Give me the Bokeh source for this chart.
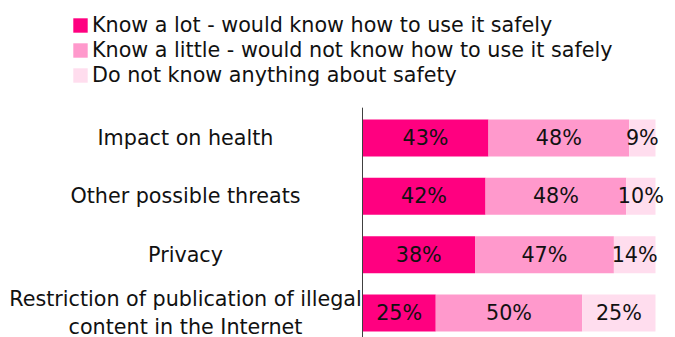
from bokeh.plotting import figure
from bokeh.models import ColumnDataSource, Range1d, Legend, LegendItem
from bokeh.core.properties import value
from bokeh.embed import file_html
from bokeh.resources import INLINE

categories = ["Impact on health", "Other possible threats", "Privacy",
              "Restriction of publication of illegal\ncontent in the Internet"]
know_lot = [43, 42, 38.4, 25]
know_little = [48, 48, 47.4, 50]
not_know = [9, 10, 14.2, 25]
series_names = ["Know a lot - would know how to use it safely",
                "Know a little - would not know how to use it safely",
                "Do not know anything about safety"]
colors = ["#FF0080", "#FF99CC", "#FFDDEE"]

FONT = "DejaVu Sans"
FS = "20.7px"
TEXT_COLOR = "#111111"
ys = list(range(len(categories)))

W, H = 675, 337
PX_PER_PCT = 2.93          # horizontal scale
AXIS_X = 362               # pixel position of the value axis
ROW = 58.33                # pixel pitch between categories
FIRST = 137.5              # pixel position of first category centre

x_range = Range1d(-AXIS_X / PX_PER_PCT, (W - AXIS_X) / PX_PER_PCT)
y_range = Range1d((H - FIRST) / ROW, -FIRST / ROW)

src = ColumnDataSource(dict(y=ys, lot=know_lot, little=know_little, none=not_know))

p = figure(width=W, height=H, output_backend="svg", toolbar_location=None,
           x_range=x_range, y_range=y_range,
           min_border_left=0, min_border_right=0, min_border_top=0, min_border_bottom=0)
p.xaxis.visible = False
p.yaxis.visible = False
p.xgrid.visible = False
p.ygrid.visible = False
p.outline_line_color = None

renderers = p.hbar_stack(["lot", "little", "none"], y="y", height=0.634, color=colors,
                         line_color=None, source=src)

# category axis line
p.segment(x0=[0], y0=[ys[0] - 0.52], x1=[0], y1=[ys[-1] + 0.7], line_color="#404040", line_width=1)

# category labels (centred in the left area)
label_x = -(AXIS_X - 185) / PX_PER_PCT
p.text(x=[label_x] * len(categories), y=ys, text=categories, text_font=value(FONT),
       text_font_size=FS, text_align="center", text_baseline="middle",
       text_color=TEXT_COLOR)

# data labels
lx, ly, lt = [], [], []
for i in range(len(categories)):
    left = 0
    for vals in (know_lot, know_little, not_know):
        v = vals[i]
        lx.append(left + v / 2)
        ly.append(ys[i])
        lt.append(f"{round(v)}%")
        left += v
p.text(x=lx, y=ly, text=lt, text_font=value(FONT), text_font_size=FS,
       text_align="center", text_baseline="middle", text_color=TEXT_COLOR)

legend = Legend(items=[LegendItem(label=n, renderers=[r]) for n, r in zip(series_names, renderers)],
                location=(71, 250), glyph_width=18, glyph_height=18, label_standoff=3,
                label_text_font=FONT, label_text_font_size=FS, label_text_color=TEXT_COLOR,
                spacing=1, padding=0, margin=0, border_line_color=None, background_fill_alpha=0)
p.add_layout(legend)

open("out.html", "w").write(file_html(p, INLINE))
